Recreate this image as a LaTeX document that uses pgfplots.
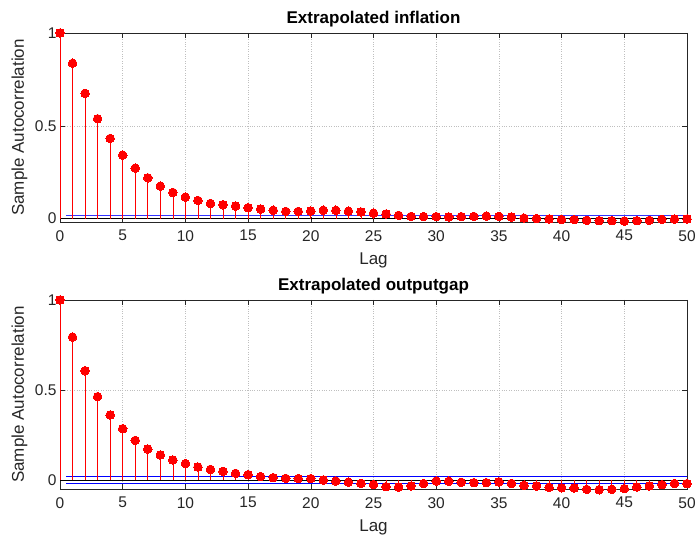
\documentclass[border=0pt]{standalone}
\usepackage{fontspec}
\setmainfont{Liberation Sans}
\usepackage{pgfplots}
\usepackage{pgfplotstable}
\pgfplotsset{compat=1.18}

% sample autocorrelation
\pgfplotstableread{
lag acf
0 1.000
1 0.837
2 0.675
3 0.538
4 0.432
5 0.342
6 0.272
7 0.220
8 0.175
9 0.141
10 0.116
11 0.098
12 0.082
13 0.075
14 0.068
15 0.059
16 0.052
17 0.045
18 0.039
19 0.039
20 0.041
21 0.045
22 0.045
23 0.040
24 0.036
25 0.030
26 0.025
27 0.018
28 0.012
29 0.011
30 0.011
31 0.009
32 0.011
33 0.012
34 0.014
35 0.012
36 0.009
37 0.003
38 0.000
39 -0.002
40 -0.005
41 -0.005
42 -0.009
43 -0.011
44 -0.011
45 -0.013
46 -0.011
47 -0.009
48 -0.004
49 -0.002
50 -0.002
}\inflation

\pgfplotstableread{
lag acf
0 1.000
1 0.794
2 0.607
3 0.463
4 0.361
5 0.285
6 0.220
7 0.172
8 0.139
9 0.111
10 0.091
11 0.072
12 0.059
13 0.048
14 0.037
15 0.030
16 0.019
17 0.013
18 0.009
19 0.008
20 0.008
21 0.000
22 -0.006
23 -0.012
24 -0.019
25 -0.026
26 -0.037
27 -0.039
28 -0.033
29 -0.020
30 -0.006
31 -0.007
32 -0.013
33 -0.015
34 -0.015
35 -0.011
36 -0.019
37 -0.030
38 -0.033
39 -0.041
40 -0.043
41 -0.044
42 -0.052
43 -0.054
44 -0.052
45 -0.048
46 -0.039
47 -0.033
48 -0.026
49 -0.020
50 -0.020
}\outputgap

\pgfplotsset{acf/.style={
  scale only axis, width=627pt, height=189pt,
  xmin=0, xmax=50, xtick={0,5,...,50},
  ytick={0,0.5,1}, ymax=1,
  grid=major, grid style={dotted, gray!50, line width=0.6pt},
  tick align=inside, major tick length=5pt,
  axis line style={line width=0.6pt, black!85},
  every tick/.style={black!85, line width=0.6pt},
  tick label style={font=\fontsize{15.5}{18}\selectfont, text=black!85},
  xticklabel style={yshift=-4.8pt},
  /pgf/number format/assume math mode=true,
  every axis title/.style={at={(axis description cs:0.5,1.075)}, anchor=center,
    font=\fontsize{17}{20}\selectfont\bfseries},
  xlabel=Lag, ylabel=Sample Autocorrelation,
  every axis x label/.style={at={(axis description cs:0.5,-0.201)}, anchor=center,
    font=\fontsize{17}{20}\selectfont, text=black!85},
  every axis y label/.style={at={(axis description cs:-0.0646,0.5)}, rotate=90, anchor=center,
    font=\fontsize{17}{20}\selectfont, text=black!85},
  clip=false,
}}
\pgfplotsset{stem/.style={red, line width=0.7pt, ycomb, mark=*, mark size=4.3pt,
  mark options={fill=red, draw=red, line width=0pt}}}

\begin{document}
\begin{tikzpicture}
\path[use as bounding box] (0,0) rectangle (696pt,537pt);

\begin{axis}[acf, at={(60pt,315pt)}, anchor=south west,
  ymin=-0.018, title={Extrapolated inflation}]
\addplot[blue!80, line width=0.7pt] coordinates {(0.5,0.019)(50,0.019)};
\addplot[black, line width=0.6pt] coordinates {(0,0)(50,0)};
\addplot[stem] table[x=lag, y=acf] {\inflation};
\end{axis}

\begin{axis}[acf, at={(60pt,48pt)}, anchor=south west,
  ymin=-0.05, title={Extrapolated outputgap}]
\addplot[blue, line width=0.7pt] coordinates {(0.5,0.0185)(50,0.0185)};
\addplot[blue, line width=0.7pt] coordinates {(0.5,-0.0185)(50,-0.0185)};
\addplot[black, line width=0.6pt] coordinates {(0,0)(50,0)};
\addplot[stem] table[x=lag, y=acf] {\outputgap};
\end{axis}
\end{tikzpicture}
\end{document}
